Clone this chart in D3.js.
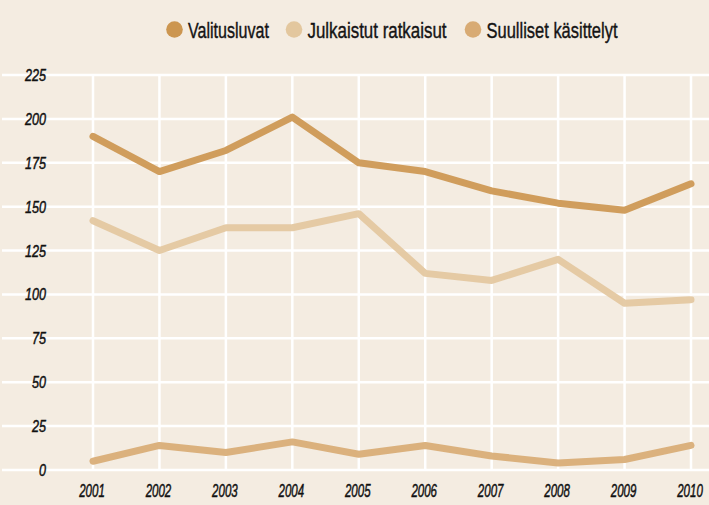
<!DOCTYPE html>
<html>
<head>
<script src="https://d3js.org/d3.v7.min.js"></script>
<style>
  body { margin: 0; background: #f4ece1; }
  svg { display: block; }
  .tick-label { font-family: "Liberation Sans", Arial, sans-serif; font-style: italic; fill: #111; stroke: #111; stroke-width: 0.5px; }
  .legend-label { font-family: "Liberation Sans", Arial, sans-serif; font-size: 22px; fill: #141414; stroke: #141414; stroke-width: 0.4px; }
</style>
</head>
<body>
<svg id="chart" width="709" height="505"></svg>
<script>
// Data
var years = ["2001","2002","2003","2004","2005","2006","2007","2008","2009","2010"];
var valitusluvat = [190, 170, 182, 201, 175, 170, 159, 152, 148, 163];
var julkaistut = [142, 125, 138, 138, 146, 112, 108, 120, 95, 97];
var suulliset = [5, 14, 10, 16, 9, 14, 8, 4, 6, 14];
var yTicks = [0, 25, 50, 75, 100, 125, 150, 175, 200, 225];
var seriesNames = ["Valitusluvat", "Julkaistut ratkaisut", "Suulliset käsittelyt"];
var seriesColors = ["#cc9650", "#e3c79e", "#d8ab74"];

var svg = d3.select("#chart"),
    width = +svg.attr("width"),
    height = +svg.attr("height");

svg.append("rect").attr("width", width).attr("height", height).attr("fill", "#f4ece1");

var x = d3.scalePoint().domain(years).range([93, 691]);
var y = d3.scaleLinear().domain([0, 225]).range([470, 75]);

// gridlines
var grid = svg.append("g");
grid.selectAll("line.h")
  .data(yTicks)
  .enter().append("line")
    .attr("x1", 2).attr("x2", width)
    .attr("y1", function(d){ return y(d) }).attr("y2", function(d){ return y(d) })
    .style("stroke", "#fff").style("stroke-width", 2.5);
grid.selectAll("line.v")
  .data(years)
  .enter().append("line")
    .attr("x1", function(d){ return x(d) }).attr("x2", function(d){ return x(d) })
    .attr("y1", y(225)).attr("y2", y(0))
    .style("stroke", "#fff").style("stroke-width", 2.5);

// condensed look: squeeze glyphs to a fixed width per digit
// y labels
svg.append("g").selectAll("text")
  .data(yTicks)
  .enter().append("text")
    .attr("class", "tick-label")
    .style("font-size", "17px")
    .attr("x", 46)
    .attr("y", function(d){ return y(d) + 6 })
    .attr("text-anchor", "end")
    .attr("textLength", function(d){ return String(d).length * 7 })
    .attr("lengthAdjust", "spacingAndGlyphs")
    .text(function(d){ return d });

// x labels
svg.append("g").selectAll("text")
  .data(years)
  .enter().append("text")
    .attr("class", "tick-label")
    .style("font-size", "19px")
    .attr("x", function(d){ return x(d) - 1 })
    .attr("y", 497)
    .attr("text-anchor", "middle")
    .attr("textLength", function(d){ return d.length * 6.4 })
    .attr("lengthAdjust", "spacingAndGlyphs")
    .text(function(d){ return d });

// lines
var line = d3.line()
  .x(function(d, i){ return x(years[i]) })
  .y(function(d){ return y(d) });

var allSeries = [suulliset, julkaistut, valitusluvat];
var allColors = [seriesColors[2], seriesColors[1], seriesColors[0]];
svg.append("g").selectAll("path")
  .data(allSeries)
  .enter().append("path")
    .attr("d", line)
    .style("fill", "none")
    .style("stroke", function(d, i){ return allColors[i] })
    .style("stroke-width", 7)
    .style("stroke-linecap", "round")
    .style("stroke-linejoin", "round")
    .style("opacity", 0.92);

// legend
var legendX = [174.5, 294, 473];
var legendW = [81, 139, 131];
var legend = svg.append("g").selectAll("g")
  .data(seriesNames)
  .enter().append("g")
    .attr("transform", function(d, i){ return "translate(" + legendX[i] + ",29.5)" });
legend.append("circle")
  .attr("r", 8.3)
  .style("fill", function(d, i){ return seriesColors[i] });
legend.append("text")
  .attr("class", "legend-label")
  .attr("x", 13.5)
  .attr("y", 8)
  .attr("textLength", function(d, i){ return legendW[i] })
  .attr("lengthAdjust", "spacingAndGlyphs")
  .text(function(d){ return d });
</script>
</body>
</html>
